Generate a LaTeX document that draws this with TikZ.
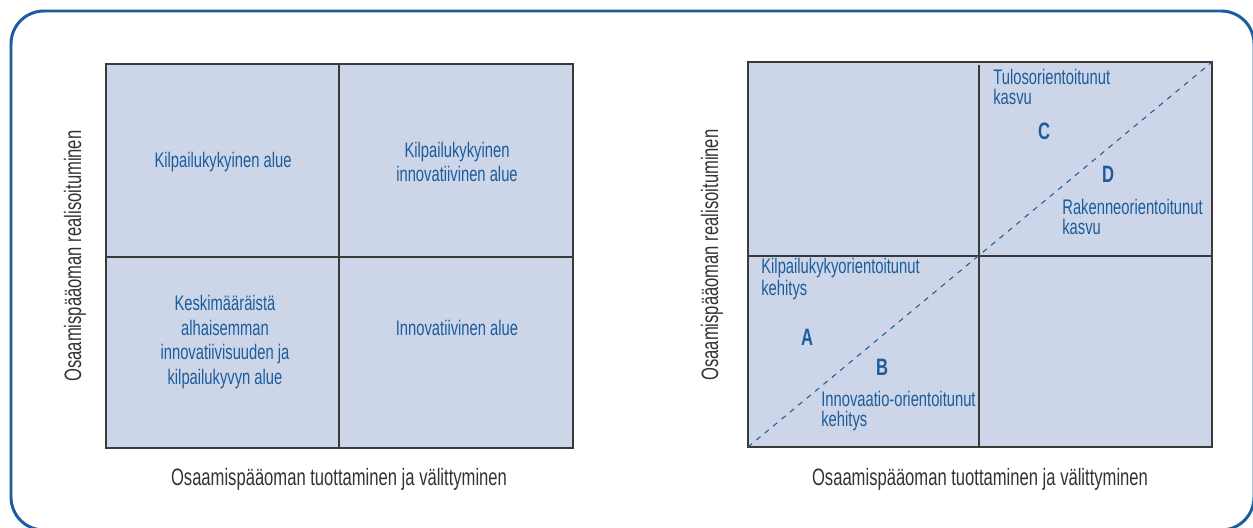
\documentclass[tikz,border=0pt]{standalone}
\usepackage{fontspec}
\setmainfont{Liberation Sans}[FakeStretch=0.7]
\usepackage{tikz}
\usetikzlibrary{positioning}
\definecolor{frame-blue}{HTML}{1A5EA0}
\definecolor{quad-fill}{HTML}{CDD6E8}
\definecolor{quad-line}{HTML}{3A3A3A}
\definecolor{label-blue}{HTML}{1B5C9C}
\definecolor{axis-dark}{HTML}{333333}

\begin{document}
\begin{tikzpicture}[
    x=0.02cm, y=0.02cm,
    quadbox/.style={draw=quad-line, fill=quad-fill, line width=1pt},
    divider/.style={draw=quad-line, line width=1pt},
    area/.style={font=\fontsize{12}{14}\selectfont, text=label-blue, align=center},
    zone/.style={font=\fontsize{12}{11}\selectfont, text=label-blue, align=left, anchor=west, inner sep=0pt},
    letter/.style={font=\fontsize{13.5}{14}\selectfont\bfseries, text=label-blue},
    axis/.style={font=\fontsize{13.5}{14}\selectfont, text=axis-dark},
]
    \clip (0,0) rectangle (1253,-527);
    \useasboundingbox (0,0) rectangle (1253,-527);

    % Outer frame
    \draw[frame-blue, line width=1.7pt, rounded corners=33pt*0.567] (11,-11) rectangle (1254,-530);

    % Left matrix
    \draw[quadbox] (106,-64) rectangle (573,-448);
    \draw[divider] (339,-64) -- (339,-448);
    \draw[divider] (106,-257) -- (573,-257);

    \node[area] (comp) at (223,-162) {Kilpailukykyinen alue};
    \node[area] (compinno) at (457,-162) {Kilpailukykyinen\\innovatiivinen alue};
    \node[area] (low) at (225,-342) {Keskimääräistä\\alhaisemman\\innovatiivisuuden ja\\kilpailukyvyn alue};
    \node[area] (inno) at (457,-328) {Innovatiivinen alue};

    \node[axis, rotate=90] (leftY) at (75,-256) {Osaamispääoman realisoituminen};
    \node[axis] (leftX) at (339,-479) {Osaamispääoman tuottaminen ja välittyminen};

    % Right matrix
    \draw[quadbox] (748,-62) rectangle (1212,-447);
    \draw[divider] (979,-65) -- (979,-447);
    \draw[divider] (748,-256) -- (1212,-256);
    \coordinate (diagLow) at (748,-447);
    \coordinate (diagHigh) at (1212,-62);
    \draw[label-blue, line width=0.6pt, dash pattern=on 3pt off 3.2pt] (diagLow) -- (diagHigh);

    \node[zone] (result) at (993,-87) {Tulosorientoitunut\\kasvu};
    \node[letter] (C) at (1044,-131) {C};
    \node[letter] (D) at (1108,-174) {D};
    \node[zone] (struct) at (1062,-217) {Rakenneorientoitunut\\kasvu};
    \node[zone] (compdev) at (761,-279) {Kilpailukykyorientoitunut\\kehitys};
    \node[letter] (A) at (807,-337) {A};
    \node[letter] (B) at (882,-367) {B};
    \node[zone] (innodev) at (821,-411) {Innovaatio-orientoitunut\\kehitys};

    \node[axis, rotate=90] (rightY) at (712,-255) {Osaamispääoman realisoituminen};
    \node[axis] (rightX) at (980,-479) {Osaamispääoman tuottaminen ja välittyminen};
\end{tikzpicture}
\end{document}
